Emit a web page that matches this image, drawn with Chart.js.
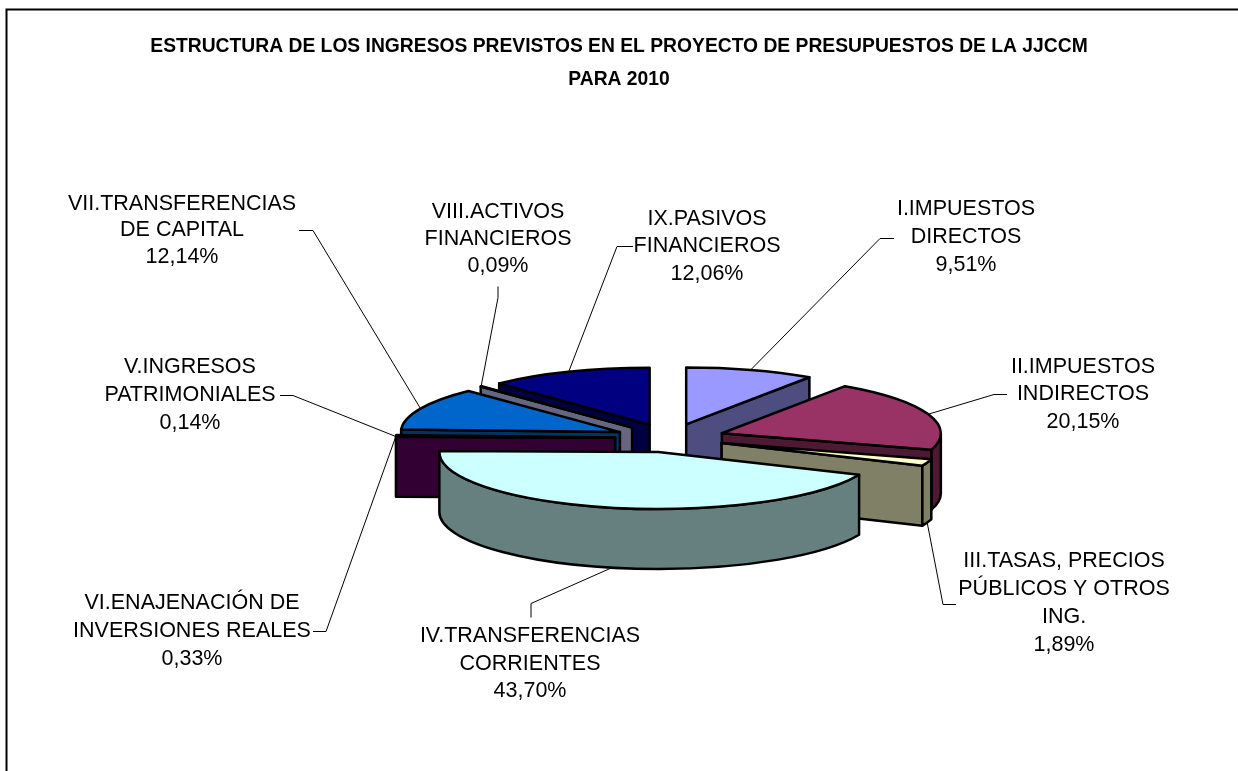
<!DOCTYPE html>
<html lang="es">
<head>
<meta charset="utf-8">
<title>Estructura de los ingresos</title>
<style>html,body{margin:0;padding:0;background:#fff}canvas{display:block}</style>
<script src="https://cdn.jsdelivr.net/npm/chart.js@4"></script>
</head>
<body>
<canvas id="c" width="1238" height="771"></canvas>
<script>
// ---- data ----
const categories = ["I.IMPUESTOS DIRECTOS","II.IMPUESTOS INDIRECTOS","III.TASAS, PRECIOS PÚBLICOS Y OTROS ING.","IV.TRANSFERENCIAS CORRIENTES","V.INGRESOS PATRIMONIALES","VI.ENAJENACIÓN DE INVERSIONES REALES","VII.TRANSFERENCIAS DE CAPITAL","VIII.ACTIVOS FINANCIEROS","IX.PASIVOS FINANCIEROS"];
const values = [9.51,20.15,1.89,43.70,0.14,0.33,12.14,0.09,12.06];
const titleLines = ["ESTRUCTURA DE LOS INGRESOS PREVISTOS EN EL PROYECTO DE PRESUPUESTOS DE LA JJCCM","PARA 2010"];
const labelLines = [["I.IMPUESTOS","DIRECTOS"],["II.IMPUESTOS","INDIRECTOS"],["III.TASAS, PRECIOS","PÚBLICOS Y OTROS","ING."],["IV.TRANSFERENCIAS","CORRIENTES"],["V.INGRESOS","PATRIMONIALES"],["VI.ENAJENACIÓN DE","INVERSIONES REALES"],["VII.TRANSFERENCIAS","DE CAPITAL"],["VIII.ACTIVOS","FINANCIEROS"],["IX.PASIVOS","FINANCIEROS"]];
const topColors  = ["#9999FF","#993366","#FFFFCC","#CCFFFF","#660066","#FF8080","#0066CC","#CCCCFF","#000080"];
const wallColors = ["#4D4D80","#4D1933","#808066","#668080","#330033","#804040","#003366","#666680","#000040"];

// ---- layout ----
const PIE = {cx:670, cy:438, r:220, squash:0.26, depth:60, explode:55, line:2.5};
const labelPos = [[966,209,28],[1083,367,27.5],[1064,561,28],[530,636,27.7],[190,367,28],[192,603,28],[182,204,26.5],[498,212,27],[707,219,27.5]];
const elbows = [[[894,238],[880,238]],[[1007,394],[994,394]],[[956,604],[943,604]],[[531,617],[531,603]],[[280,395],[293,395]],[[313,631],[326,631]],[[299,230],[313,230]],[[498,286],[498,297]],[[633,246],[617,246]]];
const LABEL_FONT = '21.5px "Liberation Sans", Arial, sans-serif';

function sliceGeom(arc){
  const p = arc.getProps(['x','y','startAngle','endAngle','outerRadius'], true);
  const mid = (p.startAngle+p.endAngle)/2;
  const k = PIE.squash;
  const ax = p.x + Math.cos(mid)*PIE.explode;
  const ay = p.y + Math.sin(mid)*PIE.explode*k;
  const pt = a => [ax + Math.cos(a)*p.outerRadius, ay + Math.sin(a)*p.outerRadius*k];
  return {ax,ay,a:p.startAngle,b:p.endAngle,mid,r:p.outerRadius,ry:p.outerRadius*k,pt};
}
function wall(ctx,g,ang,color){
  const [x,y] = g.pt(ang), d = PIE.depth;
  ctx.beginPath();
  ctx.moveTo(g.ax,g.ay); ctx.lineTo(x,y); ctx.lineTo(x,y+d); ctx.lineTo(g.ax,g.ay+d); ctx.closePath();
  ctx.fillStyle=color; ctx.fill(); ctx.stroke();
}
const pie3d = {
  id:'pie3d',
  afterLayout(chart){
    const ca = chart.chartArea;
    ca.left = PIE.cx-PIE.r; ca.right = PIE.cx+PIE.r;
    ca.top = PIE.cy-PIE.r; ca.bottom = PIE.cy+PIE.r;
    ca.width = ca.height = 2*PIE.r;
  },
  beforeDraw(chart){
    const ctx = chart.ctx;
    ctx.save();
    ctx.strokeStyle='#000'; ctx.lineWidth=2;
    ctx.beginPath(); ctx.moveTo(6.5,chart.height); ctx.lineTo(6.5,9.5); ctx.lineTo(chart.width,9.5); ctx.stroke();
    ctx.restore();
  },
  beforeDatasetsDraw(chart){
    const ctx = chart.ctx, meta = chart.getDatasetMeta(0);
    const items = meta.data.map((arc,i)=>({i,g:sliceGeom(arc)})).sort((u,v)=>u.g.ay-v.g.ay);
    ctx.save();
    ctx.lineWidth = PIE.line; ctx.strokeStyle='#000'; ctx.lineJoin='round';
    for(const {i,g} of items){
      const wc = wallColors[i];
      // radial walls facing the viewer
      if(-Math.cos(g.a) > 1e-6) wall(ctx,g,g.a,wc);
      if( Math.cos(g.b) > 1e-6) wall(ctx,g,g.b,wc);
      // outer rim wall (front half only)
      const from = Math.max(g.a,0), to = Math.min(g.b,Math.PI);
      if(to>from){
        ctx.beginPath();
        ctx.ellipse(g.ax,g.ay,g.r,g.ry,0,from,to,false);
        ctx.ellipse(g.ax,g.ay+PIE.depth,g.r,g.ry,0,to,from,true);
        ctx.closePath();
        ctx.fillStyle=wc; ctx.fill(); ctx.stroke();
      }
      // top face
      ctx.beginPath();
      ctx.moveTo(g.ax,g.ay);
      ctx.ellipse(g.ax,g.ay,g.r,g.ry,0,g.a,g.b,false);
      ctx.closePath();
      ctx.fillStyle=topColors[i]; ctx.fill(); ctx.stroke();
    }
    ctx.restore();
    return false;
  },
  afterDraw(chart){
    const ctx = chart.ctx, meta = chart.getDatasetMeta(0);
    ctx.save();
    meta.data.forEach((arc,i)=>{
      const g = sliceGeom(arc);
      let [ex,ey] = g.pt(g.mid);
      if(Math.sin(g.mid)>0) ey += PIE.depth;
      const [p0,p1] = elbows[i];
      ctx.strokeStyle='#000'; ctx.lineWidth=1;
      ctx.beginPath(); ctx.moveTo(p0[0],p0[1]+.5); ctx.lineTo(p1[0],p1[1]+.5); ctx.lineTo(ex,ey); ctx.stroke();
      const [lx,ly,lh] = labelPos[i];
      const lines = labelLines[i].concat(values[i].toFixed(2).replace('.',',')+'%');
      ctx.font = LABEL_FONT; ctx.fillStyle='#000'; ctx.textAlign='center'; ctx.textBaseline='middle';
      lines.forEach((t,j)=>ctx.fillText(t,lx,ly+j*lh));
    });
    ctx.restore();
  }
};
new Chart(document.getElementById('c'),{
  type:'pie',
  data:{labels:categories,datasets:[{data:values,backgroundColor:topColors,borderColor:'#000',borderWidth:2}]},
  options:{
    responsive:false,animation:false,
    plugins:{
      legend:{display:false},tooltip:{enabled:false},
      title:{display:true,text:titleLines,color:'#000',padding:{top:30,bottom:0},
        font:{family:'"Liberation Sans", Arial, sans-serif',size:19.3,weight:'bold',lineHeight:33/19.3}}
    }
  },
  plugins:[pie3d]
});
</script>
</body>
</html>
